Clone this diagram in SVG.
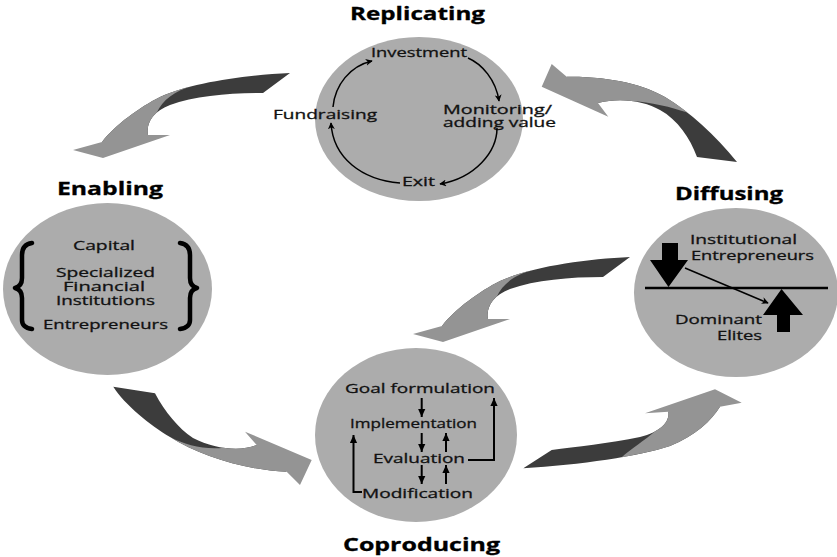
<svg xmlns="http://www.w3.org/2000/svg" width="837" height="557" viewBox="0 0 837 557">
  <defs>
    <style>
      .disc { fill: #acacac; }
      .title { font-family: "Open Sans", "Liberation Sans", sans-serif; font-weight: 700; font-size: 17.5px; fill: #000; stroke: #000; stroke-width: 0.3; }
      .lbl { font-family: "Open Sans", "Liberation Sans", sans-serif; font-size: 13px; fill: #111; stroke: #111; stroke-width: 0.3; }
      .cyc { fill: none; stroke: #000; stroke-width: 1.5; marker-end: url(#ah); }
      .flow { fill: none; stroke: #000; stroke-width: 2; marker-end: url(#ahb); }
      .brace { fill: none; stroke: #000; stroke-width: 4.5; stroke-linecap: round; stroke-linejoin: round; }
      .back { fill: #3c3c3c; }
      .front { fill: #949494; }
      .bar { stroke: #000; stroke-width: 2.5; }
    </style>
    <marker id="ah" viewBox="0 0 10 10" refX="9" refY="5" markerWidth="7" markerHeight="7" markerUnits="userSpaceOnUse" orient="auto">
      <path d="M0,0 L10,5 L0,10 L3,5 Z" fill="#000"/>
    </marker>
    <marker id="ahb" viewBox="0 0 10 10" refX="10" refY="5" markerWidth="8" markerHeight="8" markerUnits="userSpaceOnUse" orient="auto">
      <path d="M0,0.5 L10,5 L0,9.5 Z" fill="#000"/>
    </marker>
    <!-- curved two-tone arrow bending down-left -->
    <g id="swoop">
      <path class="back" d="M290,73 C245,75 190,83 160,97 C140,107 115,125 102,142 L148,135 C146,124 152,112 170,105 C195,96 230,93 263,93 Z"/>
      <path class="front" d="M192.8,86.3 C180.3,89.1 169,92.8 160,97 C140,107 115,125 102,142 L73,150 L103,158 L170,135 L148,135 C146.6,127.3 149.1,119.1 156.9,112.5 C162,101 175,90 192.8,86.3 Z"/>
    </g>
  </defs>

  <rect width="837" height="557" fill="#fff"/>

  <!-- big curved arrows between the stages -->
  <g id="connectors">
    <use href="#swoop"/>
    <use href="#swoop" transform="translate(340,184)"/>
    <g id="arrow-up-left">
      <path class="back" d="M566.7,76.7 C610,76 645,85 665,97 C690,112 715,135 737,162 L697,157 C690,138 678,120 660,110 C645,101 620,97 598,103 Z"/>
      <path class="front" d="M551.7,64 L566.7,76.7 C610,76 645,85 665,97 C672.5,101.5 680,106.7 687.4,112.6 C672,107 650,102 631.6,100.9 C620.75,99.5 609,100 598,103 L608.3,116.7 L541.7,86.7 Z"/>
    </g>
    <g id="arrow-down-right">
      <path class="back" d="M113.3,386.7 C125,405 150,425 170,437 C200,456 245,470 286.7,471.7 L256.7,445 C240,452 215,449 193,438 C178,428 165,412 155,393.3 Z"/>
      <path class="front" d="M170,437 C200,456 245,470 286.7,471.7 L300,485 L311.7,460 L245,431.7 L256.7,445 C247.5,448.85 235.8,449.7 223.5,447.8 C205,450 185,445 170,437 Z"/>
    </g>
    <g id="arrow-up-right">
      <path class="back" d="M523.3,468.3 C580,465 640,456 670,446 C695,436 712,420 720,406.7 L668.3,411.7 C670,422 660,432 640,437 C610,443 575,447 551.7,450 Z"/>
      <path class="front" d="M621.7,457.2 C641.2,453.8 658,450 670,446 C695,436 712,420 720,406.7 L741.7,402.7 L715,389.3 L645,413.3 L668.3,411.7 C669.5,418.9 665,426 655.2,431.3 C645,440 630,450 621.7,457.2 Z"/>
    </g>
  </g>

  <!-- Replicating: investment cycle -->
  <g id="replicating">
    <ellipse class="disc" cx="419" cy="119" rx="104" ry="82"/>
    <text class="title" x="350" y="20" textLength="135" lengthAdjust="spacingAndGlyphs">Replicating</text>
    <text class="lbl" x="371" y="57" textLength="96" lengthAdjust="spacingAndGlyphs">Investment</text>
    <text class="lbl" x="443" y="114" textLength="109" lengthAdjust="spacingAndGlyphs">Monitoring/</text>
    <text class="lbl" x="443" y="127" textLength="113" lengthAdjust="spacingAndGlyphs">adding value</text>
    <text class="lbl" x="273" y="119" textLength="104" lengthAdjust="spacingAndGlyphs">Fundraising</text>
    <text class="lbl" x="402" y="186" textLength="33" lengthAdjust="spacingAndGlyphs">Exit</text>
    <path class="cyc" d="M468,58 C482,64 496,80 499,101"/>
    <path class="cyc" d="M497,128 C497,152 475,178 440,184"/>
    <path class="cyc" d="M400,183 C362,180 333,158 331,123"/>
    <path class="cyc" d="M333,107 C335,85 350,66 372,61"/>
  </g>

  <!-- Enabling: ingredients in braces -->
  <g id="enabling">
    <ellipse class="disc" cx="107.5" cy="289" rx="104.5" ry="86"/>
    <text class="title" x="57" y="195" textLength="106" lengthAdjust="spacingAndGlyphs">Enabling</text>
    <text class="lbl" x="73" y="250" textLength="62" lengthAdjust="spacingAndGlyphs">Capital</text>
    <text class="lbl" x="56" y="276.5" textLength="99" lengthAdjust="spacingAndGlyphs">Specialized</text>
    <text class="lbl" x="63" y="290.5" textLength="82" lengthAdjust="spacingAndGlyphs">Financial</text>
    <text class="lbl" x="56" y="304.5" textLength="99" lengthAdjust="spacingAndGlyphs">Institutions</text>
    <text class="lbl" x="43" y="329" textLength="125" lengthAdjust="spacingAndGlyphs">Entrepreneurs</text>
    <path class="brace" d="M32,243 C25,244 22,248 22,255 L22,278 C22,284 19,287 15,288 C19,289 22,292 22,298 L22,320 C22,325 25,328 32,329"/>
    <path class="brace" d="M180,243 C187,244 190,248 190,255 L190,278 C190,284 193,287 197,288 C193,289 190,292 190,298 L190,320 C190,325 187,328 180,329"/>
  </g>

  <!-- Diffusing: entrepreneurs pushing down, elites pushing up -->
  <g id="diffusing">
    <ellipse class="disc" cx="736" cy="292.5" rx="102" ry="84.5"/>
    <text class="title" x="675" y="200" textLength="108" lengthAdjust="spacingAndGlyphs">Diffusing</text>
    <text class="lbl" x="690" y="244" textLength="107" lengthAdjust="spacingAndGlyphs">Institutional</text>
    <text class="lbl" x="691" y="260" textLength="123" lengthAdjust="spacingAndGlyphs">Entrepreneurs</text>
    <text class="lbl" x="675" y="324" textLength="87" lengthAdjust="spacingAndGlyphs">Dominant</text>
    <text class="lbl" x="717" y="340" textLength="45" lengthAdjust="spacingAndGlyphs">Elites</text>
    <line class="bar" x1="645" y1="288" x2="828" y2="288"/>
    <polygon points="662,243 678,243 678,260 688,260 668.5,287 650,260 662,260" fill="#000"/>
    <polygon points="781.5,289 803,315 790,315 790,332 777,332 777,315 763,315" fill="#000"/>
    <line x1="685" y1="268" x2="768" y2="303" stroke="#000" stroke-width="1.5" marker-end="url(#ah)"/>
  </g>

  <!-- Coproducing: policy loop -->
  <g id="coproducing">
    <ellipse class="disc" cx="416" cy="435" rx="101" ry="87"/>
    <text class="title" x="343" y="551" textLength="157" lengthAdjust="spacingAndGlyphs">Coproducing</text>
    <text class="lbl" x="345" y="393" textLength="150" lengthAdjust="spacingAndGlyphs">Goal formulation</text>
    <text class="lbl" x="350" y="428" textLength="127" lengthAdjust="spacingAndGlyphs">Implementation</text>
    <text class="lbl" x="373" y="463" textLength="92" lengthAdjust="spacingAndGlyphs">Evaluation</text>
    <text class="lbl" x="362" y="498" textLength="111" lengthAdjust="spacingAndGlyphs">Modification</text>
    <path class="flow" d="M421.7,398 L421.7,417"/>
    <path class="flow" d="M421.7,433 L421.7,452"/>
    <path class="flow" d="M446,452 L446,433"/>
    <path class="flow" d="M421.7,465 L421.7,484"/>
    <path class="flow" d="M446,484 L446,465"/>
    <path class="flow" d="M362,492 L353.5,492 L353.5,435"/>
    <path class="flow" d="M468,460 L494,460 L494,398"/>
  </g>
</svg>
